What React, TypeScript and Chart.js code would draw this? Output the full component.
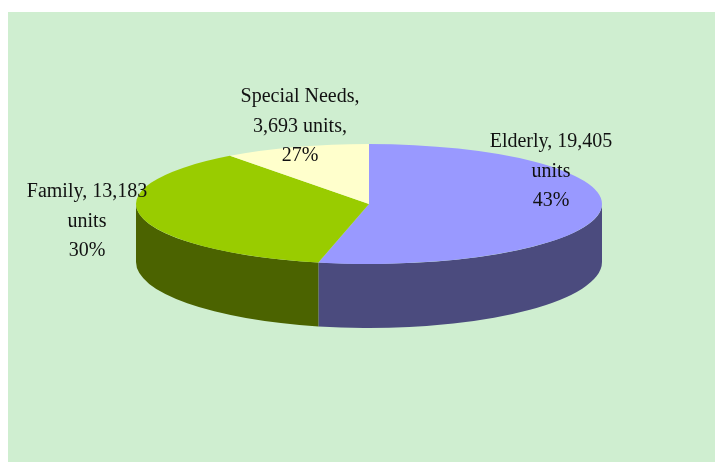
import React, { useEffect, useRef } from "react";
import { Chart, registerables } from "chart.js";

Chart.register(...registerables);

// ---- data ----
const categories = ["Elderly", "Family", "Special Needs"];
const units = [19405, 13183, 3693];
const shareLabels = ["43%", "30%", "27%"];
const labelLines = [
  ["Elderly, 19,405", "units", shareLabels[0]],
  ["Family, 13,183", "units", shareLabels[1]],
  ["Special Needs,", "3,693 units,", shareLabels[2]],
];
const topColors = ["#9999FF", "#99CC00", "#FFFFCC"];
const sideColors = ["#4B4B7E", "#4B6300", "#7F7F66"];

// ---- layout (canvas coords) ----
const W = 707;
const H = 450;
const PIE = { cx: 361, cyTop: 192, rx: 233, ryTop: 60, cyBottom: 250, ryBottom: 66 };
const LABEL_POS = [
  { x: 543, y: 130 },
  { x: 79, y: 180 },
  { x: 292, y: 85 },
];
const LINE_H = 29.5;

const pie3d = {
  id: "pie3d",
  beforeDatasetsDraw(chart: any) {
    const ctx = chart.ctx;
    const meta = chart.getDatasetMeta(0);
    const arcs = meta.data;
    if (!arcs.length) return;
    const { cx, cyTop, rx, ryTop, cyBottom, ryBottom } = PIE;
    // sides (visible front half: angles 0..PI)
    arcs.forEach((arc: any, i: number) => {
      const s = arc.startAngle;
      const e = arc.endAngle;
      for (let k = -1; k <= 1; k++) {
        const lo = 2 * Math.PI * k;
        const a = Math.max(s, lo);
        const b = Math.min(e, lo + Math.PI);
        if (b > a) {
          ctx.save();
          ctx.beginPath();
          ctx.ellipse(cx, cyTop, rx, ryTop, 0, a, b, false);
          ctx.ellipse(cx, cyBottom, rx, ryBottom, 0, b, a, true);
          ctx.closePath();
          ctx.fillStyle = sideColors[i];
          ctx.fill();
          ctx.restore();
        }
      }
    });
    const a0 = arcs[0];
    const R = a0.outerRadius;
    ctx.save();
    ctx.translate(cx, cyTop);
    ctx.scale(rx / R, ryTop / R);
    ctx.translate(-a0.x, -a0.y);
  },
  afterDatasetsDraw(chart: any) {
    chart.ctx.restore();
  },
  afterDraw(chart: any) {
    const ctx = chart.ctx;
    ctx.save();
    ctx.font = '20px "Liberation Serif", serif';
    ctx.fillStyle = "#111111";
    ctx.textAlign = "center";
    ctx.textBaseline = "middle";
    labelLines.forEach((lines, i) => {
      const p = LABEL_POS[i];
      lines.forEach((t, j) => ctx.fillText(t, p.x, p.y + j * LINE_H));
    });
    ctx.restore();
  },
};

export default function App() {
  const ref = useRef<HTMLCanvasElement | null>(null);
  useEffect(() => {
    if (!ref.current) return;
    const chart = new Chart(ref.current, {
      type: "pie",
      data: {
        labels: categories,
        datasets: [
          {
            data: units,
            backgroundColor: topColors,
            borderWidth: 0,
            clip: false as any,
          },
        ],
      },
      options: {
        responsive: false,
        animation: false,
        events: [],
        plugins: {
          legend: { display: false },
          tooltip: { enabled: false },
        },
      },
      plugins: [pie3d],
    });
    return () => chart.destroy();
  }, []);
  return (
    <div
      style={{
        position: "absolute",
        left: 8,
        top: 12,
        width: W,
        height: H,
        background: "#CFEED0",
      }}
    >
      <canvas ref={ref} width={W} height={H} style={{ display: "block" }} />
    </div>
  );
}
